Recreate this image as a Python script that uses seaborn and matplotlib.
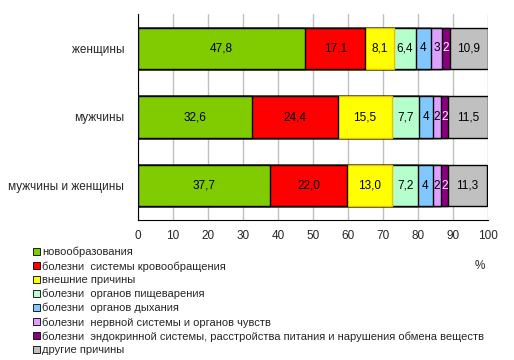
import numpy as np
import pandas as pd
import seaborn as sns
import matplotlib.pyplot as plt
from matplotlib.patches import Patch

# Data
groups = ['женщины', 'мужчины', 'мужчины и женщины']
causes = ['новообразования',
          'болезни  системы кровообращения',
          'внешние причины',
          'болезни  органов пищеварения',
          'болезни  органов дыхания',
          'болезни  нервной системы и органов чувств',
          'болезни  эндокринной системы, расстройства питания и нарушения обмена веществ',
          'другие причины']
women = [47.8, 17.1, 8.1, 6.4, 4.3, 3.1, 2.2, 10.9]
men = [32.6, 24.4, 15.5, 7.7, 4.1, 2.2, 2.0, 11.5]
both = [37.7, 22.0, 13.0, 7.2, 4.4, 2.2, 2.0, 11.3]
colors = ['#80CC00', '#FF0000', '#FFFF00', '#B4FFCC', '#80C8FF', '#DDA0FF', '#8B0080', '#C0C0C0']

sns.set_style('white')
plt.rcParams['font.family'] = ['Liberation Sans', 'DejaVu Sans']

vals = np.array([women, men, both])
cum = vals.cumsum(axis=1)

fig = plt.figure(figsize=(5.14, 3.6), dpi=100)
ax = fig.add_axes([138/514, 140/360, 350/514, 206/360])

# stacked bars: draw cumulative totals from the last segment back to the first
for i in range(len(causes) - 1, -1, -1):
    df = pd.DataFrame({'group': groups, 'end': cum[:, i]})
    edge = '#E6C000' if i == 2 else 'black'
    sns.barplot(data=df, x='end', y='group', orient='h', color=colors[i],
                width=0.6, edgecolor=edge, linewidth=1.0, saturation=1, ax=ax)

# value labels
for g in range(len(groups)):
    for i in range(len(causes)):
        v = vals[g, i]
        txt = f'{v:.1f}'.replace('.', ',') if v >= 5 else f'{v:.0f}'
        c = 'white' if i == 6 else 'black'
        ax.text(cum[g, i] - v / 2, g, txt, ha='center', va='center', fontsize=8.5, color=c)

ax.set_xlim(0, 100)
ax.set_xticks(range(0, 101, 10))
ax.set_xlabel('')
ax.set_ylabel('')
ax.xaxis.grid(True, color='#C0C0C0', linewidth=1)
ax.set_axisbelow(True)
for s in ['top', 'right']:
    ax.spines[s].set_visible(False)
ax.spines['left'].set_color('black')
ax.spines['bottom'].set_color('black')
ax.tick_params(axis='x', length=0, pad=7, labelsize=8.5)
ax.tick_params(axis='y', length=0, pad=10, labelsize=8.5)

handles = [Patch(facecolor=c, edgecolor='black', linewidth=0.6) for c in colors]
fig.legend(handles, causes, loc='upper left', bbox_to_anchor=(33/514, 1 - 247/360),
           frameon=False, fontsize=8, handlelength=0.6, handleheight=0.6,
           handletextpad=0.2, labelspacing=0.33, borderaxespad=0, borderpad=0)
fig.text(480/514, 1 - 266/360, '%', fontsize=8.5, ha='center', va='center')

fig.savefig('out.png', dpi=100)
